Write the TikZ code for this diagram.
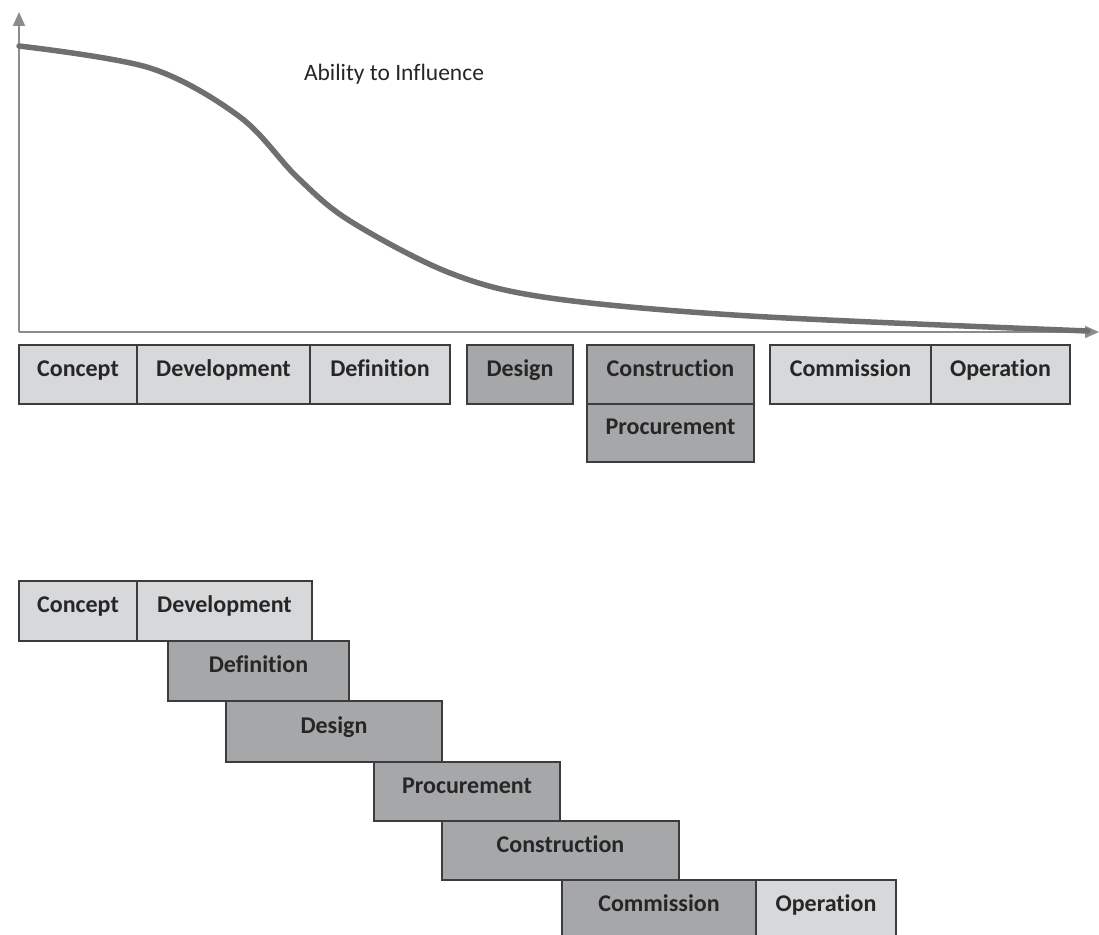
\documentclass[tikz,border=0pt]{standalone}
\usepackage{fontspec}
\setmainfont{Carlito}[Ligatures=NoCommon]
\usetikzlibrary{arrows.meta}
\definecolor{phaselight}{HTML}{D7D8DA}
\definecolor{phasedark}{HTML}{A6A7A9}
\definecolor{phaseedge}{HTML}{3C3C3C}
\definecolor{axisgray}{HTML}{8C8C8C}
\definecolor{curvegray}{HTML}{6E6F71}
\begin{document}
\begin{tikzpicture}[x=1pt,y=-1pt,
  phase/.style={draw=phaseedge, line width=1.4pt, rectangle, inner sep=0pt,
    font=\fontsize{24}{26}\selectfont\bfseries, text=black!85,
    text height=15.5pt, text depth=12.5pt},
  lightphase/.style={phase, fill=phaselight},
  darkphase/.style={phase, fill=phasedark},
  axis/.style={draw=axisgray, line width=2pt, -{Triangle[length=14pt,width=12pt]}},
  influence/.style={draw=curvegray, line width=5.5pt, line cap=round}]
\useasboundingbox (0,0) rectangle (1099,934);

% axes
\coordinate (origin) at (19,332);
\coordinate (ytop) at (19,12);
\coordinate (xend) at (1099,332);
\draw[axis] (origin) -- (ytop);
\draw[axis] (origin) -- (xend);

% influence curve
\draw[influence] plot[smooth, tension=0.55] coordinates {
  (19,46) (150,68) (240,117) (297,177) (350,221) (450,273)
  (550,298) (750,316) (1088,331)};
\node[font=\fontsize{23.5}{25}\selectfont, text=black!85] (title) at (394,74) {Ability to Influence};

% phases along the axis
\node[lightphase, minimum width=118pt, minimum height=59pt] (c1) at (78,374.5) {Concept};
\node[lightphase, minimum width=173pt, minimum height=59pt] (dv1) at (223.5,374.5) {Development};
\node[lightphase, minimum width=140pt, minimum height=59pt] (df1) at (380,374.5) {Definition};
\node[darkphase, minimum width=106pt, minimum height=59pt] (ds1) at (520,374.5) {Design};
\node[darkphase, minimum width=167pt, minimum height=59pt] (cn1) at (670.5,374.5) {Construction};
\node[darkphase, minimum width=167pt, minimum height=58pt] (pr1) at (670.5,433) {Procurement};
\node[lightphase, minimum width=161pt, minimum height=59pt] (cm1) at (850.5,374.5) {Commission};
\node[lightphase, minimum width=139pt, minimum height=59pt] (op1) at (1000.5,374.5) {Operation};

% overlapping staircase of phases
\node[lightphase, minimum width=118pt, minimum height=60pt] (c2) at (78,611) {Concept};
\node[lightphase, minimum width=175pt, minimum height=60pt] (dv2) at (224.5,611) {Development};
\node[darkphase, minimum width=181pt, minimum height=60pt] (df2) at (258.5,671) {Definition};
\node[darkphase, minimum width=216pt, minimum height=61pt] (ds2) at (334,731.5) {Design};
\node[darkphase, minimum width=186pt, minimum height=59pt] (pr2) at (467,791.5) {Procurement};
\node[darkphase, minimum width=237pt, minimum height=59pt] (cn2) at (560.5,850.5) {Construction};
\node[darkphase, minimum width=194pt, minimum height=59pt] (cm2) at (659,909.5) {Commission};
\node[lightphase, minimum width=140pt, minimum height=59pt] (op2) at (826,909.5) {Operation};
\end{tikzpicture}
\end{document}
